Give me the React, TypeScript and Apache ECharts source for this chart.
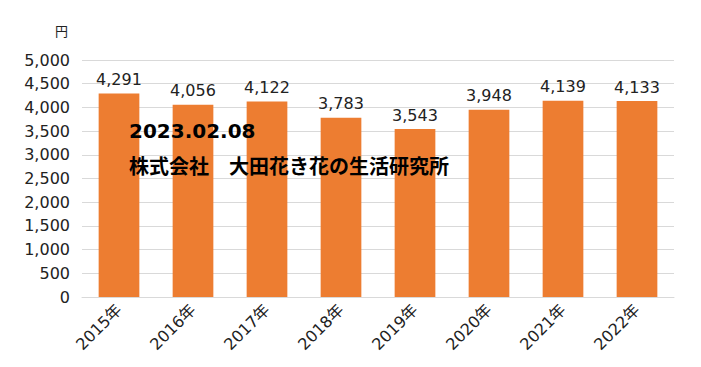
import React, { useEffect, useRef } from "react";
import * as echarts from "echarts";

const categories = ["2015年", "2016年", "2017年", "2018年", "2019年", "2020年", "2021年", "2022年"];
const values = [4291, 4056, 4122, 3783, 3543, 3948, 4139, 4133];
const unitLabel = "円";
const dateText = "2023.02.08";
const sourceText = "株式会社\u3000大田花き花の生活研究所";

const FONT = "'DejaVu Sans', 'Noto Sans CJK JP', sans-serif";
const CJK = "'Noto Sans CJK JP', sans-serif";

export default function App() {
  const ref = useRef<HTMLDivElement>(null);
  useEffect(() => {
    if (!ref.current) return;
    const chart = echarts.init(ref.current, undefined, { renderer: "svg" });
    chart.setOption({
      animation: false,
      backgroundColor: "#ffffff",
      grid: { left: 74, right: 19, top: 52, bottom: 62, containLabel: false },
      xAxis: {
        type: "category",
        data: categories,
        axisLine: { show: true, lineStyle: { color: "#d9d9d9" } },
        axisTick: { show: false },
        axisLabel: {
          rotate: 45,
          color: "#222",
          fontSize: 16,
          fontFamily: FONT,
          margin: 10,
        },
      },
      yAxis: {
        type: "value",
        min: 0,
        max: 5000,
        interval: 500,
        name: unitLabel,
        nameLocation: "end",
        nameGap: 23,
        nameTextStyle: { color: "#222", fontSize: 13, fontFamily: CJK, align: "right", padding: [0, 14, 0, 0] },
        axisLine: { show: false },
        axisTick: { show: false },
        splitLine: { lineStyle: { color: "#d9d9d9" } },
        axisLabel: {
          color: "#222",
          fontSize: 16,
          fontFamily: FONT,
          margin: 12,
          formatter: (v: number) => v.toLocaleString("en-US"),
        },
      },
      series: [
        {
          type: "bar",
          data: values,
          barWidth: "55%",
          itemStyle: { color: "#ED7D31" },
          label: {
            show: true,
            position: "top",
            distance: 6,
            color: "#222",
            fontSize: 16,
            fontFamily: FONT,
            formatter: (p: any) => Number(p.value).toLocaleString("en-US"),
          },
        },
      ],
      graphic: [
        {
          type: "text",
          x: 121,
          y: 123,
          z: 100,
          style: { text: dateText, fontSize: 20, fontWeight: "bold", fill: "#000", fontFamily: FONT, verticalAlign: "middle" },
        },
        {
          type: "text",
          x: 121,
          y: 157,
          z: 100,
          style: { text: sourceText, fontSize: 20, fontWeight: "bold", fill: "#000", fontFamily: CJK, verticalAlign: "middle" },
        },
      ],
    });
    return () => chart.dispose();
  }, []);
  return <div ref={ref} style={{ width: 685, height: 351 }} />;
}
